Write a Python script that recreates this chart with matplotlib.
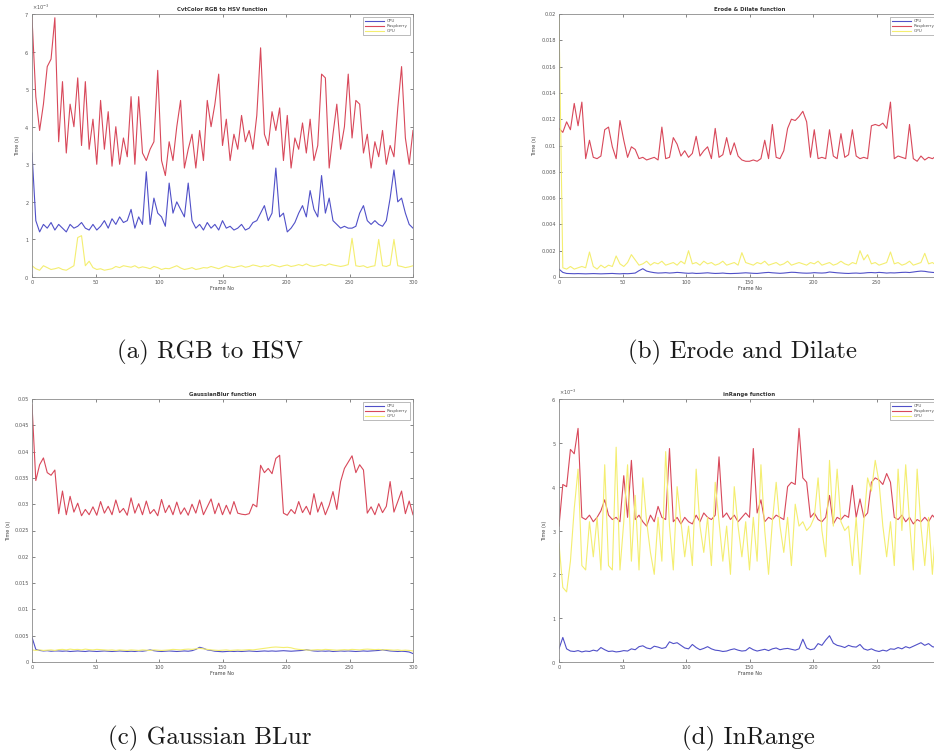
import numpy as np
import matplotlib
matplotlib.use('Agg')
import matplotlib.pyplot as plt
from matplotlib.ticker import FuncFormatter

# ---------------- data (times in milliseconds, frame step 3) ----------------
frames = np.arange(0, 301, 3)
labels = ["CPU", "Raspberry", "GPU"]

# (a) CvtColor RGB to HSV
cpu_a = [3.3, 1.5, 1.2, 1.4, 1.3, 1.45, 1.25, 1.4, 1.3, 1.2,
         1.4, 1.3, 1.35, 1.45, 1.3, 1.25, 1.4, 1.25, 1.35, 1.5,
         1.3, 1.55, 1.4, 1.6, 1.45, 1.5, 1.8, 1.3, 1.6, 1.4,
         2.8, 1.4, 2.1, 1.7, 1.6, 1.35, 2.5, 1.7, 2.0, 1.8,
         1.6, 2.5, 1.5, 1.3, 1.4, 1.25, 1.45, 1.3, 1.4, 1.25,
         1.5, 1.3, 1.35, 1.25, 1.3, 1.4, 1.25, 1.3, 1.45, 1.5,
         1.7, 1.9, 1.5, 1.7, 2.9, 1.6, 1.7, 1.2, 1.3, 1.45,
         1.7, 1.9, 1.6, 2.3, 1.8, 1.6, 2.7, 1.7, 2.1, 1.5,
         1.4, 1.3, 1.35, 1.3, 1.3, 1.35, 1.7, 1.9, 1.5, 1.4,
         1.5, 1.4, 1.35, 1.5, 2.1, 2.85, 2.0, 2.1, 1.7, 1.4,
         1.3]
rpi_a = [6.9, 4.8, 3.9, 4.6, 5.6, 5.8, 6.9, 3.6, 5.2, 3.3,
         4.6, 4.0, 5.3, 3.5, 5.2, 3.4, 4.2, 3.0, 4.7, 3.4,
         4.4, 2.95, 4.0, 3.0, 3.7, 3.2, 4.8, 3.0, 4.8, 3.3,
         3.1, 3.4, 3.6, 5.5, 3.1, 2.7, 3.6, 3.1, 4.0, 4.7,
         2.9, 3.4, 3.8, 2.9, 3.9, 3.1, 4.7, 4.0, 4.6, 5.4,
         3.5, 4.2, 3.1, 3.8, 3.4, 4.3, 3.6, 3.9, 3.4, 4.3,
         6.1, 3.8, 3.5, 4.4, 3.9, 4.5, 3.1, 4.3, 2.9, 3.7,
         3.4, 4.1, 3.3, 4.2, 3.1, 3.5, 5.4, 5.3, 2.9, 3.8,
         4.6, 3.4, 4.0, 5.4, 3.7, 4.7, 4.6, 3.3, 3.8, 2.9,
         3.6, 3.2, 3.9, 3.0, 3.5, 3.2, 4.5, 5.6, 3.7, 3.0,
         3.9]
gpu_a = [0.3, 0.22, 0.18, 0.3, 0.25, 0.2, 0.22, 0.25, 0.2, 0.18,
         0.24, 0.3, 1.05, 1.1, 0.3, 0.42, 0.25, 0.2, 0.22, 0.18,
         0.2, 0.22, 0.28, 0.25, 0.3, 0.28, 0.26, 0.3, 0.24, 0.27,
         0.25, 0.22, 0.28, 0.25, 0.2, 0.23, 0.22, 0.26, 0.3, 0.24,
         0.2, 0.22, 0.25, 0.2, 0.22, 0.25, 0.24, 0.28, 0.25, 0.22,
         0.26, 0.3, 0.27, 0.25, 0.28, 0.3, 0.26, 0.28, 0.32, 0.3,
         0.27, 0.3, 0.28, 0.33, 0.3, 0.27, 0.3, 0.32, 0.28, 0.3,
         0.33, 0.3, 0.35, 0.3, 0.28, 0.3, 0.33, 0.3, 0.35, 0.32,
         0.3, 0.28, 0.3, 0.33, 1.03, 0.3, 0.28, 0.3, 0.25, 0.28,
         0.3, 1.0, 0.3, 0.28, 0.32, 1.0, 0.3, 0.28, 0.25, 0.27,
         0.3]

# (b) Erode & Dilate
cpu_b = [0.6, 0.35, 0.27, 0.26, 0.25, 0.26, 0.25, 0.24, 0.25, 0.26,
         0.25, 0.24, 0.25, 0.26, 0.27, 0.25, 0.24, 0.26, 0.25, 0.27,
         0.3, 0.48, 0.63, 0.45, 0.38, 0.33, 0.3, 0.31, 0.33, 0.3,
         0.32, 0.35, 0.33, 0.3, 0.28, 0.3, 0.27, 0.28, 0.3, 0.32,
         0.29, 0.27, 0.28, 0.3, 0.27, 0.26, 0.27, 0.28, 0.3, 0.32,
         0.3, 0.28, 0.27, 0.3, 0.33, 0.35, 0.32, 0.3, 0.28, 0.3,
         0.33, 0.36, 0.35, 0.32, 0.3, 0.29, 0.3, 0.33, 0.31, 0.3,
         0.32, 0.38, 0.35, 0.32, 0.3, 0.28, 0.27, 0.29, 0.3, 0.28,
         0.3, 0.33, 0.34, 0.32, 0.35, 0.33, 0.3, 0.32, 0.31, 0.33,
         0.35, 0.36, 0.34, 0.38, 0.42, 0.45, 0.43, 0.38, 0.35, 0.33,
         0.3]
rpi_b = [11.3, 11.0, 11.8, 11.2, 13.2, 11.5, 13.3, 9.0, 10.4, 9.1,
         9.0, 9.2, 11.2, 11.4, 9.9, 9.0, 11.9, 10.4, 9.1, 9.9,
         9.7, 9.0, 9.1, 8.9, 9.0, 9.1, 8.9, 11.4, 9.0, 9.1,
         10.6, 10.1, 9.2, 9.6, 9.1, 9.4, 10.7, 9.2, 9.6, 9.9,
         9.0, 11.3, 9.1, 9.3, 10.6, 9.3, 10.2, 9.2, 8.9, 8.8,
         8.8, 8.9, 8.8, 9.0, 10.4, 9.0, 11.6, 9.1, 9.0, 9.6,
         11.3, 12.0, 11.9, 12.2, 12.6, 11.8, 9.1, 11.2, 9.0, 9.1,
         9.0, 11.2, 9.2, 9.0, 10.9, 9.1, 9.3, 11.2, 9.2, 9.0,
         9.1, 9.0, 11.5, 11.6, 11.5, 11.7, 11.3, 13.3, 9.0, 9.2,
         9.1, 9.0, 11.6, 9.0, 8.8, 9.2, 8.9, 9.1, 9.0, 9.2,
         9.0]
gpu_b = [19.8, 0.7, 0.6, 0.8, 0.6, 0.7, 0.8, 0.7, 1.9, 0.8,
         0.6, 0.9, 0.7, 0.9, 0.8, 1.6, 1.0, 0.8, 1.1, 1.7,
         1.3, 0.9, 1.0, 1.2, 0.9, 1.1, 1.0, 1.2, 0.9, 1.0,
         1.1, 0.9, 1.2, 1.0, 2.0, 1.0, 1.1, 0.9, 1.2, 1.0,
         1.1, 0.9, 1.0, 1.2, 0.9, 1.0, 1.1, 0.9, 1.85, 1.1,
         1.0, 0.9, 1.1, 1.0, 1.2, 0.9, 1.0, 1.1, 0.9, 1.0,
         1.2, 0.9, 1.0, 1.1, 1.0, 0.9, 1.1, 1.0, 1.2, 0.9,
         1.0, 1.1, 0.9, 1.0, 1.2, 1.0, 0.9, 1.1, 1.0, 2.0,
         1.3, 1.7, 1.0, 1.1, 0.9, 1.0, 1.1, 1.9, 1.0, 1.1,
         0.9, 1.0, 1.2, 0.9, 1.0, 1.1, 1.8, 1.0, 1.1, 0.9,
         1.0]

# (c) GaussianBlur
cpu_c = [4.7, 2.4, 2.2, 2.1, 2.15, 2.05, 2.1, 2.1, 2.05, 2.1,
         2.0, 2.05, 2.1, 2.05, 2.0, 2.1, 2.05, 2.0, 2.05, 2.1,
         2.05, 2.0, 2.05, 2.1, 2.05, 2.0, 2.05, 2.0, 2.1, 2.05,
         2.15, 2.3, 2.15, 2.05, 2.0, 2.05, 2.1, 2.05, 2.0, 2.05,
         2.1, 2.05, 2.15, 2.4, 2.8, 2.6, 2.3, 2.2, 2.05, 2.0,
         1.95, 2.0, 2.05, 2.0, 2.05, 2.0, 2.05, 2.1, 2.05, 2.0,
         2.05, 2.1, 2.05, 2.1, 2.05, 2.1, 2.15, 2.1, 2.05, 2.1,
         2.15, 2.2, 2.35, 2.2, 2.1, 2.05, 2.1, 2.05, 2.1, 2.0,
         2.05, 2.1, 2.05, 2.1, 2.05, 2.0, 2.05, 2.1, 2.05, 2.1,
         2.15, 2.2, 2.3, 2.2, 2.1, 2.05, 2.0, 2.05, 2.0, 1.9,
         1.6]
rpi_c = [48.9, 34.5, 37.5, 38.8, 36.0, 35.5, 36.5, 28.2, 32.5, 28.0,
         31.5, 28.5, 30.2, 27.8, 29.0, 28.0, 29.5, 27.9, 30.5, 28.3,
         29.6, 28.0, 30.8, 28.4, 29.2, 27.9, 31.2, 28.3, 30.1, 28.0,
         30.6, 28.2, 29.0, 27.8, 30.9, 28.4, 29.8, 28.0, 30.4, 28.1,
         29.3, 27.9, 30.0, 28.3, 30.8, 28.0, 29.5, 31.0, 28.2, 30.2,
         28.0, 29.8, 28.1, 30.5, 28.3, 28.1, 28.0, 28.2, 30.0, 29.5,
         37.4, 36.0, 36.8, 35.8, 38.7, 39.3, 28.3, 27.9, 29.0, 28.2,
         30.5, 28.4, 29.6, 28.0, 32.0, 28.5, 30.4, 28.0, 29.8, 32.4,
         29.0, 34.3, 36.8, 38.0, 39.2, 36.0, 37.5, 36.5, 28.3, 29.5,
         28.0, 30.1, 28.4, 29.6, 34.3, 28.5, 30.5, 32.5, 28.2, 30.6,
         28.0]
gpu_c = [2.3, 2.2, 2.3, 2.2, 2.25, 2.3, 2.2, 2.35, 2.4, 2.3,
         2.45, 2.35, 2.4, 2.3, 2.45, 2.35, 2.3, 2.4, 2.35, 2.3,
         2.25, 2.3, 2.2, 2.3, 2.25, 2.2, 2.3, 2.25, 2.2, 2.3,
         2.25, 2.2, 2.3, 2.25, 2.2, 2.25, 2.3, 2.4, 2.35, 2.3,
         2.4, 2.45, 2.4, 2.5, 2.6, 2.5, 2.4, 2.3, 2.25, 2.2,
         2.25, 2.3, 2.2, 2.25, 2.3, 2.25, 2.3, 2.35, 2.3, 2.4,
         2.5, 2.6, 2.7, 2.8, 2.85, 2.8, 2.75, 2.8, 2.7, 2.5,
         2.4, 2.35, 2.3, 2.25, 2.3, 2.35, 2.3, 2.4, 2.35, 2.3,
         2.25, 2.3, 2.35, 2.3, 2.4, 2.35, 2.3, 2.4, 2.45, 2.4,
         2.35, 2.4, 2.3, 2.35, 2.3, 2.25, 2.3, 2.2, 2.25, 2.2,
         2.1]

# (d) inRange
cpu_d = [0.3, 0.56, 0.3, 0.25, 0.24, 0.26, 0.23, 0.25, 0.24, 0.27,
         0.25, 0.33, 0.28, 0.24, 0.25, 0.23, 0.24, 0.26, 0.25, 0.3,
         0.28, 0.35, 0.37, 0.32, 0.3, 0.36, 0.34, 0.31, 0.33, 0.46,
         0.42, 0.44, 0.38, 0.32, 0.3, 0.4, 0.33, 0.28, 0.31, 0.35,
         0.3, 0.27, 0.26, 0.24, 0.25, 0.28, 0.3, 0.27, 0.25, 0.26,
         0.33, 0.28, 0.25, 0.27, 0.29, 0.26, 0.3, 0.32, 0.28, 0.3,
         0.31, 0.29, 0.27, 0.3, 0.52, 0.32, 0.28, 0.3, 0.42, 0.38,
         0.5, 0.6, 0.43, 0.38, 0.36, 0.33, 0.38, 0.35, 0.34, 0.4,
         0.3, 0.27, 0.3, 0.26, 0.24, 0.27, 0.25, 0.3, 0.29, 0.33,
         0.3, 0.35, 0.32, 0.36, 0.4, 0.44, 0.38, 0.42, 0.35, 0.33,
         0.3]
rpi_d = [3.1, 4.05, 4.0, 4.85, 4.75, 5.33, 3.3, 3.25, 3.35, 3.2,
         3.3, 3.45, 3.7, 3.35, 3.25, 3.3, 3.2, 4.25, 3.3, 4.6,
         3.25, 3.35, 3.2, 3.1, 3.35, 3.2, 3.55, 3.3, 3.25, 4.87,
         3.2, 3.3, 3.15, 3.3, 3.2, 3.15, 3.35, 3.2, 3.4, 3.3,
         3.25, 3.35, 4.68, 3.3, 3.4, 3.25, 3.35, 3.2, 3.3, 3.4,
         3.3, 4.87, 3.4, 3.7, 3.2, 3.3, 3.25, 3.35, 3.3, 3.25,
         4.0, 4.1, 4.05, 5.33, 4.2, 4.1, 3.3, 3.4, 3.25, 3.2,
         3.3, 3.8, 3.15, 3.3, 3.25, 3.35, 3.3, 4.03, 3.3, 3.72,
         3.3, 3.4, 4.1, 4.2, 4.15, 4.05, 4.3, 4.1, 3.3, 3.25,
         3.35, 3.2, 3.3, 3.15, 3.25, 3.2, 3.3, 3.2, 3.35, 3.25,
         3.2]
gpu_d = [2.7, 1.7, 1.6, 2.3, 3.5, 4.4, 2.2, 2.1, 3.2, 2.4,
         3.3, 2.1, 4.5, 2.2, 2.1, 4.9, 2.1, 3.2, 4.5, 2.3,
         3.8, 2.1, 4.2, 3.2, 2.5, 2.0, 3.3, 2.3, 4.8, 3.1,
         2.1, 4.0, 3.2, 2.4, 3.1, 2.2, 4.4, 3.1, 2.5, 3.3,
         2.2, 4.1, 3.2, 2.3, 3.1, 2.0, 4.0, 3.1, 2.4, 3.2,
         2.1, 3.3, 2.3, 4.5, 3.0, 2.0, 3.2, 4.1, 3.1, 2.5,
         3.3, 2.2, 3.6, 3.1, 3.2, 3.0, 3.1, 3.3, 4.2, 3.0,
         2.4, 4.6, 3.1, 4.4, 3.2, 3.0, 3.1, 2.2, 3.3, 2.0,
         3.2, 4.2, 3.9, 4.6, 4.1, 3.1, 2.4, 3.2, 2.2, 4.4,
         3.0, 4.5, 3.2, 2.1, 4.4, 3.1, 2.2, 3.3, 2.0, 3.2,
         2.3]

titles = ["CvtColor RGB to HSV function", "Erode & Dilate function",
          "GaussianBlur function", "inRange function"]
captions = ["(a) RGB to HSV", "(b) Erode and Dilate",
            "(c) Gaussian BLur", "(d) InRange"]
ymax = [7e-3, 0.02, 0.05, 6e-3]
ystep = [1e-3, 0.002, 0.005, 1e-3]
sci = [True, False, False, True]
xtick_max = [300, 250, 300, 250]
series = [(cpu_a, rpi_a, gpu_a), (cpu_b, rpi_b, gpu_b),
          (cpu_c, rpi_c, gpu_c), (cpu_d, rpi_d, gpu_d)]

# ---------------- layout ----------------
W, H = 934, 752
fig = plt.figure(figsize=(W / 100, H / 100), dpi=100)
fig.patch.set_facecolor('white')

boxes = [(32, 14), (559, 14), (32, 399), (559, 399)]   # left, top in px
AW, AH = 381, 263
cap_pos = [(210, 352), (742, 352), (210, 738), (748, 738)]
colors = ['#5050c8', '#d8485a', '#f4ee70']
small = 3.6
spine_c = '#8a8a8a'

for k in range(4):
    l, t = boxes[k]
    ax = fig.add_axes([l / W, 1 - (t + AH) / H, AW / W, AH / H])
    for vals, c, lab in zip(series[k], colors, labels):
        ax.plot(frames, np.array(vals) * 1e-3, color=c, lw=0.8, label=lab)
    ax.set_xlim(0, 300)
    ax.set_ylim(0, ymax[k])
    ax.set_xticks(np.arange(0, xtick_max[k] + 1, 50))
    ax.set_yticks(np.arange(0, ymax[k] + ystep[k] / 2, ystep[k]))
    if sci[k]:
        ax.ticklabel_format(axis='y', style='sci', scilimits=(-3, -3),
                            useMathText=True)
        ax.yaxis.get_offset_text().set_fontsize(small)
        ax.yaxis.get_offset_text().set_color('#555555')
    else:
        ax.yaxis.set_major_formatter(FuncFormatter(lambda v, p: '%g' % round(v, 6)))
    ax.tick_params(direction='in', top=True, right=True, length=2.5,
                   width=0.5, labelsize=small, colors='#555555', pad=2)
    for s in ax.spines.values():
        s.set_color(spine_c)
        s.set_linewidth(0.6)
    ax.set_title(titles[k], fontsize=small + 0.3, fontweight='bold', pad=2,
                 color='#333333')
    ax.set_xlabel('Frame No', fontsize=small, color='#444444', labelpad=1)
    ax.set_ylabel('Time (s)', fontsize=small, color='#444444', labelpad=3)
    leg = ax.legend(loc='upper right', fontsize=3.0, frameon=True,
                    fancybox=False, borderpad=0.4, handlelength=4.5,
                    labelspacing=0.25, borderaxespad=0.8)
    leg.get_frame().set_edgecolor('#888888')
    leg.get_frame().set_linewidth(0.5)
    for txt in leg.get_texts():
        txt.set_color('#555555')
    cx, cy = cap_pos[k]
    fig.text(cx / W, 1 - cy / H, captions[k], ha='center', va='center',
             fontfamily='cmr10', fontsize=18, color='#1a1a1a')

fig.savefig('out.png', dpi=100, facecolor='white')
